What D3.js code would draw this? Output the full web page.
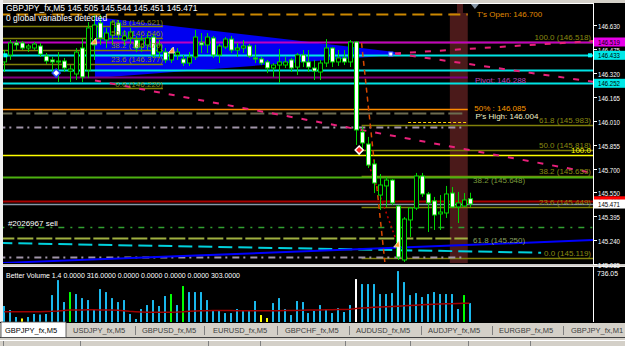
<!DOCTYPE html>
<html><head><meta charset="utf-8">
<script src="https://cdn.jsdelivr.net/npm/d3@7"></script>
<style>
html,body{margin:0;padding:0;background:#d4d0c8;overflow:hidden}
svg{display:block}
text{font-family:"Liberation Sans",Arial,sans-serif}
</style>
</head><body>
<svg id="c" width="625" height="346"></svg>
<script>
// ---------------- DATA ----------------
const symbol = "GBPJPY_fx,M5";
const lastQuote = [145.505, 145.544, 145.451, 145.471];
// candles: [open, high, low, close]
const ohlc = [
[146.390,146.467,146.325,146.435],[146.435,146.532,146.403,146.513],[146.513,146.532,146.467,146.500],
[146.513,146.525,146.467,146.480],[146.480,146.506,146.454,146.493],[146.480,146.519,146.467,146.506],
[146.493,146.513,146.422,146.441],[146.428,146.448,146.377,146.396],[146.403,146.422,146.325,146.390],
[146.390,146.454,146.260,146.396],[146.396,146.416,146.325,146.351],[146.331,146.370,146.260,146.344],
[146.312,146.480,146.273,146.454],[146.480,146.545,146.260,146.293],[146.338,146.648,146.286,146.610],
[146.500,146.694,146.403,146.629],[146.642,146.694,146.500,146.545],[146.532,146.610,146.480,146.577],
[146.564,146.661,146.500,146.648],[146.642,146.661,146.532,146.564],[146.532,146.597,146.493,146.558],
[146.545,146.610,146.506,146.584],[146.532,146.558,146.454,146.480],[146.487,146.558,146.454,146.532],
[146.500,146.577,146.467,146.545],[146.551,146.571,146.416,146.435],[146.454,146.532,146.416,146.500],
[146.454,146.480,146.383,146.403],[146.403,146.480,146.383,146.454],[146.435,146.480,146.403,146.454],
[146.409,146.435,146.364,146.383],[146.383,146.454,146.364,146.422],[146.422,146.597,146.403,146.551],
[146.513,146.577,146.448,146.500],[146.500,146.577,146.448,146.551],[146.545,146.558,146.416,146.435],
[146.435,146.506,146.383,146.493],[146.487,146.551,146.474,146.538],[146.538,146.558,146.448,146.467],
[146.467,146.513,146.422,146.480],[146.480,146.532,146.448,146.493],[146.493,146.506,146.416,146.428],
[146.416,146.500,146.383,146.409],[146.409,146.422,146.370,146.383],[146.390,146.403,146.318,146.351],
[146.351,146.383,146.293,146.370],[146.370,146.474,146.254,146.390],[146.370,146.422,146.351,146.390],
[146.403,146.416,146.325,146.351],[146.357,146.448,146.306,146.435],[146.435,146.467,146.357,146.390],
[146.390,146.467,146.325,146.357],[146.351,146.403,146.273,146.331],[146.325,146.403,146.273,146.383],
[146.383,146.538,146.357,146.480],[146.480,146.487,146.357,146.390],[146.390,146.467,146.364,146.416],
[146.416,146.467,146.370,146.390],[146.390,146.532,146.357,146.519],[146.519,146.525,145.853,145.950],
[145.937,145.969,145.820,145.866],[145.859,145.905,145.704,145.723],[145.730,145.756,145.542,145.607],
[145.529,145.665,145.432,145.594],[145.588,145.646,145.452,145.626],[145.626,145.633,145.465,145.478],
[145.458,145.465,145.109,145.128],[145.109,145.387,145.096,145.374],[145.368,145.452,145.258,145.445],
[145.445,145.672,145.432,145.652],[145.652,145.672,145.517,145.536],[145.536,145.549,145.290,145.478],
[145.491,145.517,145.303,145.400],[145.407,145.529,145.303,145.419],[145.413,145.588,145.381,145.536],
[145.542,145.581,145.445,145.452],[145.452,145.549,145.348,145.478],[145.458,145.542,145.452,145.497],
[145.505,145.544,145.451,145.471]
];
const volumes = [218,163,68,48,68,109,102,109,367,571,272,408,381,326,299,177,449,408,326,272,
299,109,41,177,231,299,218,354,381,231,490,408,408,408,299,150,163,122,122,177,
163,163,286,95,54,258,326,177,95,286,272,122,150,231,177,122,190,136,231,585,
517,517,517,381,381,394,694,544,367,394,340,381,408,381,381,381,177,367,258];
const volYellow = [3,43,44];
const volGreen = [11,28,30,77];
const volWhite = [59];
const volMA = [140,140,140,140,140,140,140,142,145,150,158,164,165,165,166,166,165,164,163,160,
152,145,140,136,132,132,132,133,134,136,140,146,150,152,155,156,157,157,156,155,
155,155,154,154,154,155,155,156,157,158,160,162,163,164,166,168,170,172,174,185,
190,195,200,205,208,212,216,220,226,230,234,238,242,245,248,250,252,254,255];
const volMax = 736.05;
const priceTicks = [146.630,146.475,146.320,146.165,146.010,145.855,145.700,145.550,145.395,145.240,145.085];
const fibLeftLevels = ["61.8","50.0","38.2","23.6","0.0"];
const fibLeftPrices = [146.621,146.546,146.470,146.377,146.220];
const fibRightLevels = ["100.0","61.8","50.0","38.2","23.6","0.0"];
const fibRightPrices = [146.518,145.983,145.818,145.653,145.449,145.119];
// horizontal levels: price, start index, end index, style key
const hLevels = [
 [146.700,-1,77.7,"orangeDash"],[146.519,-1,99,"magenta"],[146.433,-1,99,"cyan"],
 [146.335,-1,99,"cyan"],[146.290,-1,77.7,"purple"],[146.252,-1,99,"cyan"],
 [146.084,-1,77.7,"orange"],[146.062,-1,77.3,"grayDash"],[146.004,67.7,77.7,"yellowDot"],
 [145.971,-1,77.3,"lavDash"],[145.786,-1,99,"yellow"],[145.648,-1,99,"green"],
 [145.492,-1,99,"darkred"],[145.471,-1,99,"slate"],[145.320,-1,99,"greenDashDot"],
 [145.250,-1,77.7,"ygDash"],[145.131,-1,77.3,"lavDash"]
];
// sloped lines: [i0,p0,i1,p1,style]
const sLines = [
 [-1,145.219,90,145.156,"cyanDash"],
 [-1,145.089,99,145.238,"blue"],
 [65.5,146.445,98.7,146.262,"pink"],
 [65.5,146.445,98.7,146.525,"pink"],
 [15.2,146.270,98.7,145.672,"pink"],
 [59.9,146.513,63.8,145.096,"redDash"],
 [60.8,145.756,65.7,145.238,"redDot"]
];
const triangleIdx = [15.2,65.5,65.5,15.2];
const trianglePx = [146.681,146.454,146.435,146.286];
const bandIdx = [74.7,77.7];
const axisBoxes = [
 [146.519,"146.519","#e800e8","#000"],[146.433,"146.433","#00e8e8","#000"],
 [146.252,"146.252","#00e8e8","#000"],[145.492,"145.492","#ff0000","#400"],
 [145.471,"145.471","#ffffff","#000"]
];
const notes = [
 ["T's Open: 146.700",79.2,146.681,"#e08c00"],
 ["Pivot: 146.288",78.9,146.254,"#b848b8"],
 ["50% : 146.085",78.8,146.073,"#ff9a00"],
 ["P's High: 146.004",79.0,146.021,"#f0f0c8"],
 ["38.2 (145.648)",78.6,145.607,"#7a9a3a"],
 ["61.8 (145.250)",78.6,145.219,"#8aa060"],
 ["#2026967 sell",0.6,145.329,"#ffffff"]
];
const tabs = ["GBPJPY_fx,M5","USDJPY_fx,M5","GBPUSD_fx,M5","EURUSD_fx,M5","GBPCHF_fx,M5","AUDUSD_fx,M5","AUDJPY_fx,M5","EURGBP_fx,M5","GBPJPY_fx,M1"];
const volumeTitle = "Better Volume 1.4 0.0000 316.0000 0.0000 0.0000 0.0000 0.0000 303.0000";

// ---------------- LAYOUT / STYLE ----------------
const W=625,H=346, PL=3, PR=593, PT=3, PB=263, VT=268, VB=322;
const styles = {
 orangeDash:{c:"#cc8800",w:2,d:"12,6"}, magenta:{c:"#c000c0",w:2}, cyan:{c:"#00e4e4",w:2},
 purple:{c:"#800080",w:2}, orange:{c:"#ff8c00",w:1.5}, grayDash:{c:"#6c6c50",w:2,d:"14,4"},
 yellowDot:{c:"#ffd000",w:1,d:"3,2"}, lavDash:{c:"#a094a8",w:2,d:"7,4,2,5"},
 yellow:{c:"#ffff00",w:1.5}, green:{c:"#4cb010",w:2}, darkred:{c:"#a80000",w:2},
 slate:{c:"#8898a8",w:1.5}, greenDashDot:{c:"#30a030",w:1.5,d:"6,6,2,6"},
 ygDash:{c:"#a0b040",w:2,d:"16,3"}, cyanDash:{c:"#00d0dc",w:2,d:"14,6"},
 blue:{c:"#0000ff",w:2}, pink:{c:"#e8207a",w:2,d:"6,9"},
 redDash:{c:"#d84800",w:1.5,d:"5,4"}, redDot:{c:"#c00000",w:1.5,d:"2,3"},
 fib:{c:"#80800a",w:1.5}
};

const svg = d3.select("#c");
const x = d3.scaleLinear().domain([0,98.7]).range([4.3,593]);
const y = d3.scaleLinear().domain([145.0895,146.7713]).range([PB,PT]);
const vy = d3.scaleLinear().domain([0,volMax]).range([VB,VT]);

svg.append("rect").attr("width",W).attr("height",H).attr("fill","#d4d0c8");
svg.append("rect").attr("x",0).attr("y",0).attr("width",3).attr("height",322).attr("fill","#f0f0f0");
svg.append("rect").attr("x",PL).attr("y",PT).attr("width",W-PL).attr("height",PB-PT+1).attr("fill","#000");
svg.append("rect").attr("x",PL).attr("y",266).attr("width",W-PL).attr("height",VB-266).attr("fill","#000");

const plot = svg.append("g");
plot.append("clipPath").attr("id","cp").append("rect").attr("x",PL).attr("y",PT).attr("width",PR-PL).attr("height",PB-PT);
const g = plot.append("g").attr("clip-path","url(#cp)");

// red time band
g.append("rect").attr("x",x(bandIdx[0])).attr("y",y(146.707)).attr("width",x(bandIdx[1])-x(bandIdx[0])).attr("height",PB-y(146.707)).attr("fill","#4b1a1a");
g.append("rect").attr("x",x(75.9)).attr("y",PT).attr("width",x(76.9)-x(75.9)).attr("height",y(146.707)-PT).attr("fill","#4b1a1a");

// blue triangle
g.append("polygon").attr("points",triangleIdx.map((d,i)=>[x(d),y(trianglePx[i])].join(",")).join(" ")).attr("fill","#0000f0");

function styled(sel,k){const s=styles[k];sel.attr("stroke",s.c).attr("stroke-width",s.w).attr("fill","none");if(s.d)sel.attr("stroke-dasharray",s.d);return sel;}

// fib lines
fibLeftPrices.forEach(p=>styled(g.append("line").attr("x1",x(-1)).attr("x2",x(26.6)).attr("y1",Math.round(y(p))+0.5).attr("y2",Math.round(y(p))+0.5),"fib"));
fibRightPrices.forEach(p=>styled(g.append("line").attr("x1",x(59.9)).attr("x2",x(99)).attr("y1",Math.round(y(p))+0.5).attr("y2",Math.round(y(p))+0.5),"fib"));

// horizontal levels
hLevels.forEach(([p,i0,i1,k])=>{
  const yy=Math.round(y(p))+0.5;
  styled(g.append("line").attr("x1",x(i0)).attr("x2",x(i1)).attr("y1",yy).attr("y2",yy),k);
});
// sloped lines
sLines.forEach(([i0,p0,i1,p1,k])=>styled(g.append("line").attr("x1",x(i0)).attr("y1",y(p0)).attr("x2",x(i1)).attr("y2",y(p1)),k));

// candles
const cg = g.append("g");
ohlc.forEach((d,i)=>{
  const cx=Math.round(x(i))+0.5;
  const [o,h,l,c]=d;
  cg.append("line").attr("x1",cx).attr("x2",cx).attr("y1",y(h)).attr("y2",y(l)).attr("stroke","#00d400").attr("stroke-width",1);
  const top=Math.min(y(o),y(c)), bot=Math.max(y(o),y(c));
  cg.append("rect").attr("x",cx-2).attr("y",top).attr("width",4).attr("height",Math.max(1,bot-top))
    .attr("fill",c<o?"#ffffff":"#000000").attr("stroke","#00d400").attr("stroke-width",1);
});

// markers
function diamond(i,p,fill,stroke){const cx=x(i),cy=y(p);g.append("path").attr("d",`M${cx},${cy-4}L${cx+4},${cy}L${cx},${cy+4}L${cx-4},${cy}Z`).attr("fill",fill).attr("stroke",stroke).attr("stroke-width",1.5);}
diamond(8.7,146.318,"#ffffff","#2040ff");
diamond(59.5,145.820,"#ff2020","#ffffff");
[[15.0,146.525],[28,146.467],[65.8,145.212]].forEach(([i,p])=>{const cx=x(i),cy=y(p);
  g.append("path").attr("d",`M${cx-3},${cy+3}L${cx+2},${cy-3}L${cx+3},${cy+3}Z`).attr("fill","#ff9a30").attr("stroke","#fff0d0").attr("stroke-width",0.8);});
g.append("rect").attr("x",x(64.8)-2).attr("y",y(146.441)-2).attr("width",4).attr("height",4).attr("fill","#fff").attr("stroke","#4060ff");
g.append("rect").attr("x",x(98.2)-2).attr("y",y(146.433)-2).attr("width",4).attr("height",4).attr("fill","#00ffff");
g.append("rect").attr("x",x(0)-1).attr("y",y(146.433)-2).attr("width",4).attr("height",4).attr("fill","#00ffff");
{const cx=x(78.9),cy=y(146.752);g.append("path").attr("d",`M${cx-4},${cy-2}L${cx+4},${cy-2}L${cx},${cy+3}Z`).attr("fill","#8898a8");}

// fib labels
fibLeftLevels.forEach((lv,k)=>g.append("text").attr("x",x(26.6)).attr("y",y(fibLeftPrices[k])-1.5).attr("text-anchor","end").attr("font-size",8).attr("fill","#8a8a10").text(`${lv} (${fibLeftPrices[k].toFixed(3)})`));
fibRightLevels.forEach((lv,k)=>g.append("text").attr("x",591).attr("y",y(fibRightPrices[k])-2).attr("text-anchor","end").attr("font-size",8).attr("fill","#8a8a10").text(`${lv} (${fibRightPrices[k].toFixed(3)})`));
g.append("text").attr("x",591).attr("y",y(145.786)-2).attr("text-anchor","end").attr("font-size",8).attr("fill","#ffff00").text("100.0");
notes.forEach(([t,i,p,c])=>g.append("text").attr("x",x(i)).attr("y",y(p)).attr("font-size",8).attr("fill",c).text(t));

// header
svg.append("text").attr("x",6).attr("y",11).attr("font-size",8.5).attr("fill","#fff").text(`${symbol}  ${lastQuote.map(v=>v.toFixed(3)).join(" ")}`);
svg.append("text").attr("x",6).attr("y",21).attr("font-size",8.5).attr("fill","#fff").text("0 global variables detected");

// plot borders
svg.append("line").attr("x1",PL).attr("x2",PR).attr("y1",3.5).attr("y2",3.5).attr("stroke","#fff");
svg.append("line").attr("x1",PR+0.5).attr("x2",PR+0.5).attr("y1",3).attr("y2",264).attr("stroke","#fff");
svg.append("line").attr("x1",PL).attr("x2",W).attr("y1",264.5).attr("y2",264.5).attr("stroke","#c8c8c8");
svg.append("line").attr("x1",PL).attr("x2",W).attr("y1",266.5).attr("y2",266.5).attr("stroke","#e8e8e8");
svg.append("line").attr("x1",PR+0.5).attr("x2",PR+0.5).attr("y1",266).attr("y2",322).attr("stroke","#fff");

// price axis
priceTicks.forEach(p=>{
  const yy=Math.round(y(p))+0.5;
  svg.append("line").attr("x1",PR).attr("x2",PR+4).attr("y1",yy).attr("y2",yy).attr("stroke","#fff");
  svg.append("text").attr("x",598).attr("y",yy+3).attr("font-size",7.2).attr("fill","#fff").attr("textLength",22).attr("lengthAdjust","spacingAndGlyphs").text(p.toFixed(3));
});
axisBoxes.forEach(([p,t,bg,fg])=>{
  const yy=y(p);
  svg.append("rect").attr("x",PR+1).attr("y",yy-4.5).attr("width",W-PR-1).attr("height",9).attr("fill",bg);
  svg.append("text").attr("x",598).attr("y",yy+3).attr("font-size",7.2).attr("fill",fg).attr("textLength",22).attr("lengthAdjust","spacingAndGlyphs").text(t);
});

// volume panel
const vg = svg.append("g");
volumes.forEach((v,i)=>{
  const col = volWhite.includes(i)?"#ffffff":volGreen.includes(i)?"#00ff00":volYellow.includes(i)?"#ffff00":"#1ab8ec";
  vg.append("rect").attr("x",Math.round(x(i))-1).attr("y",vy(v)).attr("width",2).attr("height",VB-vy(v)).attr("fill",col);
});
vg.append("path").datum(volMA).attr("d",d3.line().x((d,i)=>x(i)).y(d=>vy(d))).attr("fill","none").attr("stroke","#a00000").attr("stroke-width",1.5);
svg.append("text").attr("x",6).attr("y",278).attr("font-size",7.5).attr("fill","#fff").attr("textLength",234).attr("lengthAdjust","spacingAndGlyphs").text(volumeTitle);
svg.append("text").attr("x",597).attr("y",276).attr("font-size",7.5).attr("fill","#fff").attr("textLength",21).attr("lengthAdjust","spacingAndGlyphs").text(volMax.toFixed(2));

// tab bar
svg.append("rect").attr("x",0).attr("y",322).attr("width",W).attr("height",24).attr("fill","#d4d0c8");
svg.append("line").attr("x1",0).attr("x2",W).attr("y1",322.5).attr("y2",322.5).attr("stroke","#000");
svg.append("line").attr("x1",0).attr("x2",W).attr("y1",337.5).attr("y2",337.5).attr("stroke","#404040");
svg.append("rect").attr("x",1).attr("y",322).attr("width",65).attr("height",15.5).attr("fill","#fff").attr("stroke","#404040").attr("stroke-width",0.8);
const tabX=[5,73,142,213,285,356,428,499,571];
const sepX=[135,204,277,349,421,492,563];
tabs.forEach((t,k)=>svg.append("text").attr("x",tabX[k]).attr("y",333).attr("font-size",7.5).attr("fill",k===0?"#000":"#404040").text(t));
sepX.forEach(sx=>svg.append("line").attr("x1",sx+0.5).attr("x2",sx+0.5).attr("y1",326).attr("y2",335).attr("stroke","#808080"));
// status strip
svg.append("rect").attr("x",0).attr("y",339).attr("width",W).attr("height",7).attr("fill","#d4d0c8");
[3,80,208,260,345,410,468,530].forEach(sx=>{
  svg.append("line").attr("x1",sx+0.5).attr("x2",sx+0.5).attr("y1",340).attr("y2",346).attr("stroke","#808080");
});
svg.append("line").attr("x1",0).attr("x2",W).attr("y1",340.5).attr("y2",340.5).attr("stroke","#ffffff");
</script>
</body></html>
